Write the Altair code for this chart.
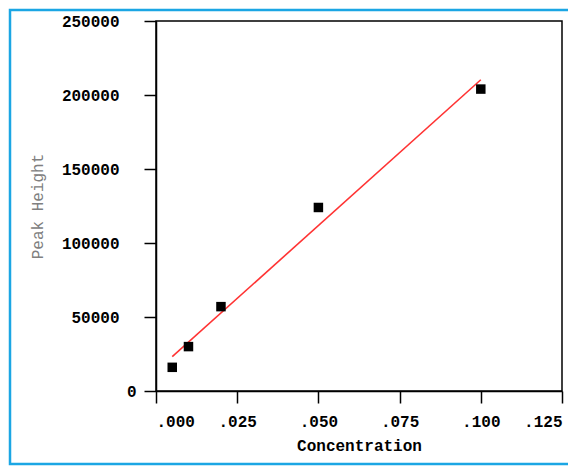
import altair as alt
import pandas as pd

conc = [0.005, 0.010, 0.020, 0.050, 0.100]
peak = [16000, 30000, 57000, 124000, 204000]
x_ticks = [0.0, 0.025, 0.05, 0.075, 0.1, 0.125]
y_ticks = [0, 50000, 100000, 150000, 200000, 250000]

df = pd.DataFrame({"Concentration": conc, "Peak Height": peak})

FONT = "Liberation Mono"

xenc = alt.X(
    "Concentration:Q",
    scale=alt.Scale(domain=[0, 0.125], nice=False, zero=False),
    axis=alt.Axis(
        values=x_ticks,
        labelExpr="substring(format(datum.value, '.3f'), 1)",
        title="Concentration",
        grid=False,
        tickSize=12,
        labelPadding=10,
        titlePadding=8,
    ),
)
yenc = alt.Y(
    "Peak Height:Q",
    scale=alt.Scale(domain=[0, 250000], nice=False),
    axis=alt.Axis(
        values=y_ticks,
        format="d",
        title="Peak Height",
        grid=False,
        tickSize=12,
        labelPadding={"condition": {"test": "datum.value === 0", "value": 8}, "value": 25},
        titlePadding=16,
        titleColor="#808080",
        titleFontWeight="normal",
    ),
)

border = alt.Chart(df).mark_rect(
    fill=None, stroke="#1ba6e4", strokeWidth=2.5, clip=False
).encode(
    x=alt.value(-146), x2=alt.value(460), y=alt.value(-11), y2=alt.value(443)
).transform_filter("datum.Concentration == 0.005")

points = alt.Chart(df).mark_square(size=90, color="black", opacity=1).encode(
    x=xenc, y=yenc
)

fit = alt.Chart(df).transform_regression(
    "Concentration", "Peak Height"
).mark_line(color="#ff3333", strokeWidth=1.6).encode(
    x="Concentration:Q", y="Peak Height:Q"
)

chart = alt.layer(border, fit, points).properties(
    width=406,
    height=370,
    autosize=alt.AutoSizeParams(type="none"),
    padding={"left": 148, "top": 13, "right": 6, "bottom": 75},
    background="white",
).configure_view(
    stroke="black", strokeWidth=1.5
).configure_axis(
    labelFont=FONT,
    labelFontSize=16,
    labelFontWeight="bold",
    labelColor="black",
    titleFont=FONT,
    titleFontSize=16,
    titleFontWeight="bold",
    titleColor="black",
    domainColor="black",
    domainWidth=1.5,
    tickColor="black",
    tickWidth=1.5,
)

chart.save("out.html", embed_options={"renderer": "svg", "actions": False})
